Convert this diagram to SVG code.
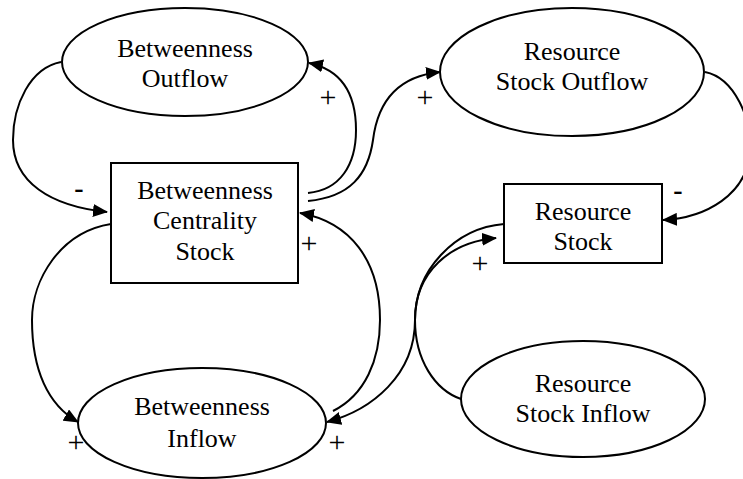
<svg xmlns="http://www.w3.org/2000/svg" width="743" height="479" viewBox="0 0 743 479">
<style>
.shape{fill:#fff;stroke:#000;stroke-width:2}
.edge{fill:none;stroke:#000;stroke-width:2}
text{font-family:'Liberation Serif','Times New Roman',Times,'DejaVu Serif',serif;font-size:26px;fill:#000;text-anchor:middle}
text.sign{font-size:30px}
text.neg{font-size:28px;font-weight:bold}
</style>
<defs>
<marker id="arr" viewBox="0 0 15 13" refX="14" refY="6.5" markerWidth="15" markerHeight="13" markerUnits="userSpaceOnUse" orient="auto">
<path d="M0,0 L15,6.5 L0,13 z" fill="#000"/>
</marker>
</defs>
<rect width="743" height="479" fill="#fff"/>
<g id="connectors">
<path class="edge" marker-end="url(#arr)" d="M61,62 C30,68 13,105 13,140 C13,182 50,206 107,212"/>
<path class="edge" marker-end="url(#arr)" d="M308,193 C340,190 356,165 356,130 C356,95 342,70 309,63"/>
<path class="edge" marker-end="url(#arr)" d="M308,201 C350,197 368,175 373,140 C378,100 400,76 440,72"/>
<path class="edge" marker-end="url(#arr)" d="M705,72 C735,78 752,120 750,150 C748,195 705,218 663,220"/>
<path class="edge" marker-end="url(#arr)" d="M111,224 C60,232 32,280 32,320 C32,370 48,405 78,422"/>
<path class="edge" marker-end="url(#arr)" d="M333,411 C365,395 380,360 380,320 C380,260 350,222 300,213"/>
<path class="edge" marker-end="url(#arr)" d="M504,224 C455,228 415,270 415,320 C415,375 372,410 327,422"/>
<path class="edge" marker-end="url(#arr)" d="M461,399 C435,390 415,360 415,320 C415,272 450,242 496,238"/>
<text class="neg" x="79" y="197">-</text>
<text class="sign" x="328" y="107">+</text>
<text class="sign" x="425" y="107">+</text>
<text class="neg" x="678" y="199">-</text>
<text class="sign" x="309" y="253">+</text>
<text class="sign" x="480" y="273">+</text>
<text class="sign" x="76" y="452">+</text>
<text class="sign" x="337" y="452">+</text>
</g>
<g id="betweenness-outflow">
<ellipse class="shape" cx="185" cy="62" rx="123" ry="54"/>
<text x="185" y="57">Betweenness</text>
<text x="185" y="87">Outflow</text>
</g>
<g id="resource-stock-outflow">
<ellipse class="shape" cx="572" cy="72" rx="132" ry="64"/>
<text x="572" y="60">Resource</text>
<text x="572" y="90">Stock Outflow</text>
</g>
<g id="betweenness-centrality-stock">
<rect class="shape" x="111" y="163" width="187" height="120"/>
<text x="205" y="199">Betweenness</text>
<text x="205" y="229">Centrality</text>
<text x="205" y="260">Stock</text>
</g>
<g id="resource-stock">
<rect class="shape" x="504" y="184" width="158" height="79"/>
<text x="583" y="220">Resource</text>
<text x="583" y="250">Stock</text>
</g>
<g id="betweenness-inflow">
<ellipse class="shape" cx="202" cy="423" rx="124" ry="55"/>
<text x="202" y="415">Betweenness</text>
<text x="202" y="447">Inflow</text>
</g>
<g id="resource-stock-inflow">
<ellipse class="shape" cx="583" cy="399" rx="122" ry="58"/>
<text x="583" y="392">Resource</text>
<text x="583" y="422">Stock Inflow</text>
</g>
</svg>
